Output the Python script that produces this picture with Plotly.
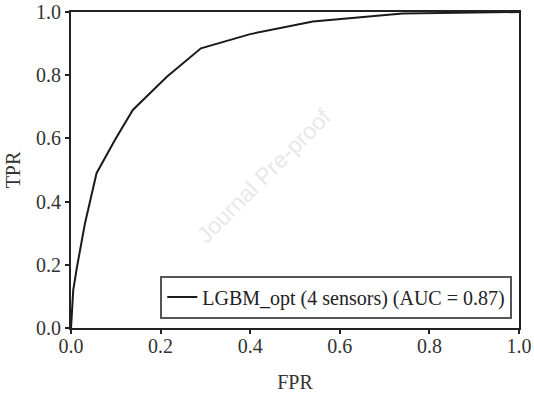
import plotly.graph_objects as go

fpr = [0.0, 0.005, 0.013, 0.031, 0.057, 0.098, 0.138, 0.214, 0.29, 0.4, 0.54, 0.74, 1.0]
tpr = [0.0, 0.12, 0.19, 0.33, 0.49, 0.595, 0.69, 0.795, 0.885, 0.93, 0.97, 0.995, 1.0]
label = "LGBM_opt (4 sensors) (AUC = 0.87)"
ticks = [0.0, 0.2, 0.4, 0.6, 0.8, 1.0]
tick_text = ["0.0", "0.2", "0.4", "0.6", "0.8", "1.0"]

font = "Liberation Serif"
fig = go.Figure()
fig.add_trace(go.Scatter(x=fpr, y=tpr, mode="lines", name=label,
                         line=dict(color="#1a1a1a", width=2)))

axis_common = dict(range=[0, 1], tickvals=ticks, ticktext=tick_text,
                   showline=True, linecolor="#222", linewidth=2, mirror=True,
                   ticks="outside", ticklen=4, tickwidth=2, tickcolor="#222",
                   showgrid=False, zeroline=False, automargin=False,
                   tickfont=dict(family=font, size=20, color="#333"))
fig.update_xaxes(**axis_common, ticklabelstandoff=-5,
                 title=dict(text="FPR", font=dict(family=font, size=20, color="#333"), standoff=26))
fig.update_yaxes(**axis_common,
                 title=dict(text="TPR", font=dict(family=font, size=20, color="#333"), standoff=10))

fig.add_annotation(text="Journal Pre-proof", x=0.43, y=0.48, xref="x", yref="y",
                   showarrow=False, textangle=-45,
                   font=dict(family="Liberation Sans", size=23, color="#e8e8e8"))

fig.update_layout(width=534, height=393, plot_bgcolor="white", paper_bgcolor="white",
                  margin=dict(l=71, r=15, t=12, b=65, autoexpand=False),
                  showlegend=True,
                  legend=dict(x=0.985, y=0.03, xanchor="right", yanchor="bottom",
                              bgcolor="white", bordercolor="#555", borderwidth=2,
                              font=dict(family=font, size=20, color="#222"),
                              itemwidth=30, tracegroupgap=0))
fig.write_html("out.html")
